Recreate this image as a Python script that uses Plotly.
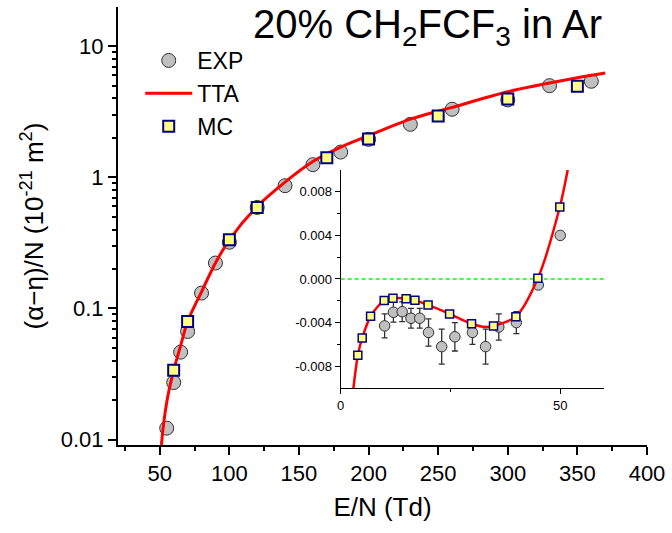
import plotly.graph_objects as go

# ---------------- data (main panel, log scale) ----------------
exp_x = [55, 60, 65, 70, 80, 90, 100, 120, 140, 160, 180, 200, 230, 260, 300, 330, 360]
exp_y = [0.0122, 0.0272, 0.0464, 0.0667, 0.131, 0.222, 0.32, 0.59, 0.864, 1.25, 1.56, 1.95, 2.54, 3.31, 3.9, 5.01, 5.41]

mc_x = [60, 70, 100, 120, 170, 200, 250, 300, 350]
mc_y = [0.0337, 0.0796, 0.334, 0.59, 1.41, 1.96, 2.94, 3.96, 4.96]

tta_x = [51.2, 52.4, 53.8, 56, 60, 65, 70, 80, 90, 100, 120, 140, 160, 180, 200, 230, 250, 260, 300, 350, 370]
tta_y = [0.0091, 0.0122, 0.0159, 0.022, 0.0337, 0.052, 0.0796, 0.134, 0.222, 0.334, 0.60, 0.92, 1.32,
         1.70, 2.08, 2.78, 3.2, 3.42, 4.5, 5.75, 6.25]

# ---------------- data (inset, linear scale) ----------------
in_exp_x = [10, 12, 14, 16, 18, 20, 23, 26, 30, 33, 36, 40, 45, 50]
in_exp_y = [-0.0043, -0.00305, -0.0030, -0.0036, -0.0036, -0.0049, -0.0062, -0.0053, -0.0049, -0.0062,
            -0.0044, -0.0040, -0.00055, 0.0040]
in_exp_err = [0.0011, 0.0009, 0.0009, 0.0009, 0.0009, 0.00125, 0.0016, 0.0013, 0.0011, 0.0016,
              0.0012, 0.001, 0.0002, 0.0002]

in_mc_x = [3.9, 4.9, 6.8, 9.9, 11.9, 14.9, 16.9, 19.9, 24.8, 29.8, 34.8, 39.9, 44.9, 49.9]
in_mc_y = [-0.0070, -0.0054, -0.00342, -0.00198, -0.00177, -0.0018, -0.00195, -0.00238, -0.0032,
           -0.0041, -0.0043, -0.00345, 0.00006, 0.0066]

in_tta_x = [2.9, 3.9, 4.9, 6.8, 8.5, 9.9, 11.9, 14.9, 16.9, 19.9, 24.8, 29.8, 33, 34.8, 39.9, 44.9, 49.9, 51.7]
in_tta_y = [-0.0100, -0.0070, -0.0054, -0.00342, -0.0025, -0.00198, -0.00177, -0.0018, -0.00195,
            -0.00238, -0.0032, -0.0041, -0.0044, -0.0043, -0.00345, 0.00006, 0.0066, 0.0100]

main_ytick_vals = [0.01, 0.1, 1, 10]
main_ytick_text = ["0.01", "0.1", "1", "10"]
main_xtick_vals = [50, 100, 150, 200, 250, 300, 350, 400]
inset_ytick_vals = [-0.008, -0.004, 0.0, 0.004, 0.008]
inset_ytick_text = ["-0.008", "-0.004", "0.000", "0.004", "0.008"]
inset_xtick_vals = [0, 50]

FONT = "Liberation Sans, Arial, sans-serif"
GREY = "#c0c0c0"
YEL = "#ffff80"
NAVY = "#000080"
RED = "#ff0000"

fig = go.Figure()

# main panel
fig.add_trace(go.Scatter(x=exp_x, y=exp_y, mode="markers", name="EXP",
                         marker=dict(symbol="circle", size=14, color=GREY,
                                     line=dict(color="#303030", width=1))))
fig.add_trace(go.Scatter(x=tta_x, y=tta_y, mode="lines", name="TTA",
                         line=dict(color=RED, width=3, shape="spline", smoothing=0.8)))
fig.add_trace(go.Scatter(x=mc_x, y=mc_y, mode="markers", name="MC",
                         marker=dict(symbol="square", size=11, color=YEL,
                                     line=dict(color=NAVY, width=2))))

# inset
fig.add_trace(go.Scatter(x=in_exp_x, y=in_exp_y, mode="markers", showlegend=False,
                         xaxis="x2", yaxis="y2",
                         error_y=dict(type="data", array=in_exp_err, color="#303030",
                                      thickness=1.3, width=3),
                         marker=dict(symbol="circle", size=10.5, color=GREY,
                                     line=dict(color="#303030", width=1))))
fig.add_trace(go.Scatter(x=in_tta_x, y=in_tta_y, mode="lines", showlegend=False,
                         xaxis="x2", yaxis="y2",
                         line=dict(color=RED, width=2.5, shape="spline", smoothing=0.8)))
fig.add_trace(go.Scatter(x=in_mc_x, y=in_mc_y, mode="markers", showlegend=False,
                         xaxis="x2", yaxis="y2",
                         marker=dict(symbol="square", size=8, color=YEL,
                                     line=dict(color=NAVY, width=1.5))))

fig.add_shape(type="line", xref="x2", yref="y2", x0=0, x1=60, y0=0, y1=0,
              line=dict(color="#00ff00", width=1.5, dash="4px,3px"), layer="below")

minor_y = [v * 10 ** e for e in (-2, -1, 0, 1) for v in range(2, 10) if v * 10 ** e < 20]

fig.update_layout(
    width=672, height=533,
    margin=dict(l=118, r=22, t=7, b=88),
    paper_bgcolor="white", plot_bgcolor="white",
    font=dict(family=FONT, color="black"),
    showlegend=True,
    legend=dict(x=0.042, y=0.927, xanchor="left", yanchor="top",
                bgcolor="rgba(0,0,0,0)", font=dict(size=23, family=FONT),
                itemwidth=47, tracegroupgap=0),
    xaxis=dict(range=[20, 400], showgrid=False, zeroline=False,
               showline=True, linecolor="black", linewidth=2,
               ticks="outside", ticklen=8, tickwidth=1.5, tickcolor="black",
               tickvals=main_xtick_vals, tickfont=dict(size=22),
               minor=dict(ticks="outside", ticklen=4, tickwidth=1.5, tickcolor="black",
                          tickvals=[25, 75, 125, 175, 225, 275, 325, 375]),
               title=dict(text="E/N (Td)", font=dict(size=26), standoff=12)),
    yaxis=dict(type="log", range=[-2.042, 1.30], showgrid=False, zeroline=False,
               showline=True, linecolor="black", linewidth=2,
               ticks="outside", ticklen=8, tickwidth=1.5, tickcolor="black",
               tickvals=main_ytick_vals, ticktext=main_ytick_text, tickfont=dict(size=22),
               minor=dict(ticks="outside", ticklen=4, tickwidth=1.5, tickcolor="black",
                          tickvals=minor_y),
               title=dict(text="(α−η)/N (10<sup>-21</sup> m<sup>2</sup>)", font=dict(size=26),
                          standoff=10)),
    xaxis2=dict(domain=[0.421, 0.919], anchor="y2", range=[0, 60], showgrid=False, zeroline=False,
                showline=True, linecolor="black", linewidth=1.2,
                ticks="outside", ticklen=5, tickwidth=1, tickcolor="black",
                tickvals=inset_xtick_vals, tickfont=dict(size=13),
                minor=dict(ticks="outside", ticklen=3, tickwidth=1, tickcolor="black",
                           tickvals=[25])),
    yaxis2=dict(domain=[0.130, 0.628], anchor="x2", range=[-0.01, 0.01], showgrid=False,
                zeroline=False, showline=True, linecolor="black", linewidth=1.2,
                ticks="outside", ticklen=5, tickwidth=1, tickcolor="black",
                tickvals=inset_ytick_vals, ticktext=inset_ytick_text, tickfont=dict(size=13),
                minor=dict(ticks="outside", ticklen=3, tickwidth=1, tickcolor="black",
                           tickvals=[-0.006, -0.002, 0.002, 0.006])),
)

fig.add_annotation(text="20% CH<sub>2</sub>FCF<sub>3</sub> in Ar", xref="paper", yref="paper",
                   x=0.252, y=1.016, xanchor="left", yanchor="top", showarrow=False,
                   font=dict(size=40, family=FONT, color="black"))

fig.write_html("out.html")
